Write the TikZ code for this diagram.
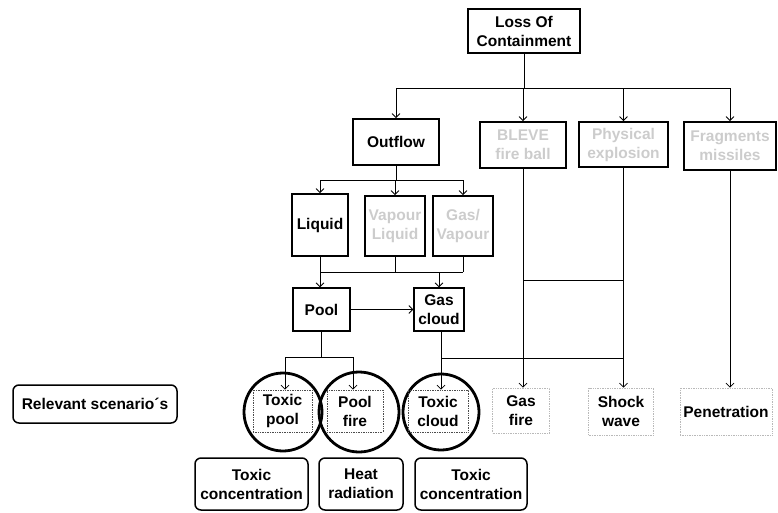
\documentclass[tikz,border=0pt]{standalone}
\usepackage{fontspec}
\setmainfont{Liberation Sans}
\usetikzlibrary{arrows.meta}
\begin{document}
\begin{tikzpicture}[x=1pt,y=-1pt,
  every node/.style={font=\fontsize{15.5}{19}\selectfont\bfseries, align=center, inner sep=0pt},
  box/.style={draw, line width=1.8pt, minimum width=#1},
  fbox/.style={draw, line width=1.8pt, minimum width=#1, text=gray!40},
  dbox/.style={draw=gray!55, densely dotted, line width=0.7pt, minimum width=#1},
  rbox/.style={draw, line width=1.5pt, rounded corners=6pt, minimum width=#1},
  ring/.style={draw, circle, line width=2.8pt, minimum size=#1},
  conn/.style={line width=0.8pt},
  arr/.style={conn, -{Straight Barb[length=4pt,width=8pt]}}
]
\useasboundingbox (0,0) rectangle (778,512);

% boxes
\node[box=112pt, minimum height=44pt] (loc) at (524,31) {Loss Of\\Containment};
\node[box=86pt, minimum height=46pt] (outflow) at (396,142) {Outflow};
\node[fbox=86pt, minimum height=46pt] (bleve) at (523,145) {BLEVE\\fire ball};
\node[fbox=89pt, minimum height=45pt] (phys) at (623.5,144.5) {Physical\\explosion};
\node[fbox=92pt, minimum height=48pt] (frag) at (730,146) {Fragments\\missiles};

\node[box=56pt, minimum height=62pt] (liquid) at (320,225) {Liquid};
\node[fbox=60pt, minimum height=60pt] (vapour) at (395,226) {Vapour\\Liquid};
\node[fbox=60pt, minimum height=60pt] (gas) at (463,226) {Gas/\\Vapour};

\node[box=57pt, minimum height=43pt, line width=1.3pt] (pool) at (321.5,309.5) {Pool};
\node[box=50pt, minimum height=43pt, line width=1.3pt] (gascloud) at (439,309.5) {Gas\\cloud};

% rings and scenarios
\node[ring=78pt] (r1) at (283,412) {};
\node[ring=80pt] (r2) at (359,412) {};
\node[ring=76pt] (r3) at (441,412) {};
\node[dbox=59pt, minimum height=42pt, draw=black!70] (tpool) at (282.5,411) {Toxic\\pool};
\node[dbox=56pt, minimum height=42pt, draw=black!70] (pfire) at (355,411) {Pool\\fire};
\node[dbox=60pt, minimum height=42pt, draw=black!70] (tcloud) at (438,411) {Toxic\\cloud};

\node[dbox=57pt, minimum height=45pt] (gasfire) at (521,410.5) {Gas\\fire};
\node[dbox=65pt, minimum height=47pt] (shock) at (621,411.5) {Shock\\wave};
\node[dbox=92pt, minimum height=47pt] (pen) at (726,411.5) {Penetration};

\node[rbox=164pt, minimum height=38pt] (rel) at (95,404) {Relevant scenario´s};

\node[rbox=113pt, minimum height=52pt] (tc1) at (251.5,484) {Toxic\\concentration};
\node[rbox=84pt, minimum height=52pt] (heat) at (361,484) {Heat\\radiation};
\node[rbox=112pt, minimum height=52pt] (tc2) at (471,484) {Toxic\\concentration};

% connectors from Loss Of Containment
\coordinate (h1) at (524,88);
\draw[conn] (loc.south) -- (h1);
\draw[conn] (outflow.north |- h1) -- (730,88) coordinate (h1r);
\draw[arr] (outflow.north |- h1) -- (outflow.north);
\draw[arr] (bleve.north |- h1) -- (bleve.north);
\draw[arr] (phys.north |- h1) -- (phys.north);
\draw[arr] (frag.north |- h1) -- (frag.north);

% outflow to phases
\coordinate (h2) at (396,180);
\draw[conn] (outflow.south) -- (h2);
\draw[conn] (liquid.north |- h2) -- (gas.north |- h2);
\draw[arr] (liquid.north |- h2) -- (liquid.north);
\draw[arr] (vapour.north |- h2) -- (vapour.north);
\draw[arr] (gas.north |- h2) -- (gas.north);

% phases to pool / gas cloud
\coordinate (h3) at (320,272);
\draw[conn] (liquid.south) -- (liquid.south |- h3);
\draw[conn] (vapour.south) -- (vapour.south |- h3);
\draw[conn] (gas.south) -- (gas.south |- h3);
\draw[conn] (liquid.south |- h3) -- (gas.south |- h3);
\draw[arr] (liquid.south |- h3) -- (liquid.south |- pool.north);
\draw[arr] (gascloud.north |- h3) -- (gascloud.north);
\draw[arr] (pool.east) -- (gascloud.west);

% pool to toxic pool / pool fire
\coordinate (h4) at (321,357);
\draw[conn] (pool.south) -- (pool.south |- h4);
\draw[conn] (285,357) coordinate (h4l) -- (353,357) coordinate (h4r);
\draw[arr] (h4l) -- (h4l |- tpool.north);
\draw[arr] (h4r) -- (h4r |- pfire.north);

% gas cloud to toxic cloud and gas fire / shock wave
\coordinate (h5) at (441,358);
\draw[conn] (gascloud.south -| h5) -- (h5);
\draw[arr] (h5) -- (h5 |- tcloud.north);
\draw[conn] (h5) -- (phys.south |- h5);

% BLEVE, explosion, fragments
\draw[arr] (bleve.south) -- (bleve.south |- gasfire.north);
\draw[arr] (phys.south) -- (phys.south |- shock.north);
\draw[arr] (frag.south) -- (frag.south |- pen.north);
\draw[conn] (bleve.south |- 0,280) -- (phys.south |- 0,280);
\end{tikzpicture}
\end{document}
